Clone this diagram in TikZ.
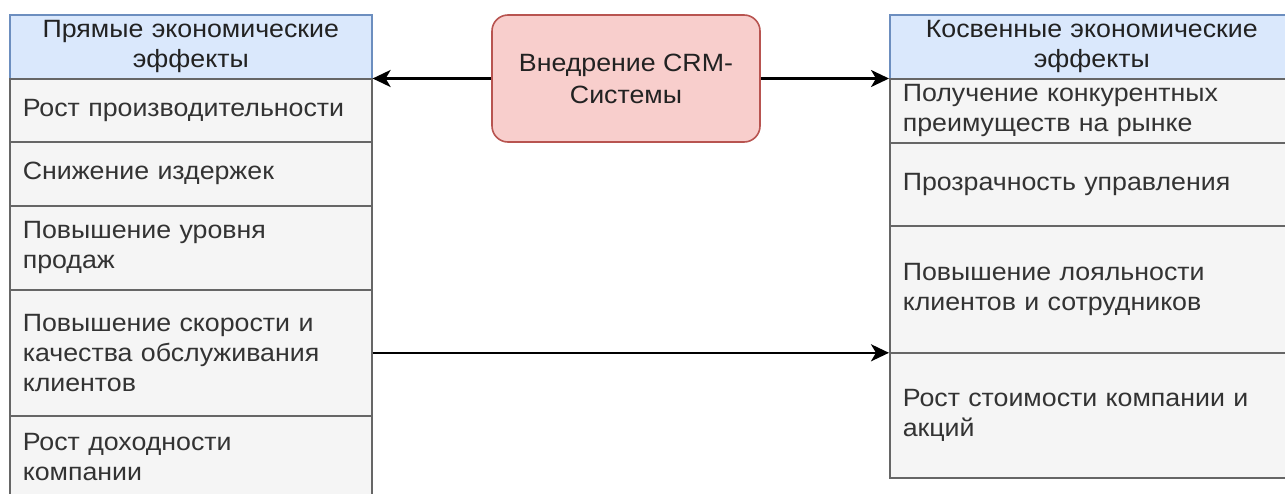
\documentclass[tikz,border=0pt]{standalone}
\usepackage{fontspec}
\setmainfont{Liberation Sans}[FakeStretch=1.07]
\usetikzlibrary{arrows.meta}
\definecolor{hdrfill}{HTML}{DAE8FC}
\definecolor{hdrline}{HTML}{6C8EBF}
\definecolor{cellfill}{HTML}{F5F5F5}
\definecolor{cellline}{HTML}{666666}
\definecolor{celltext}{HTML}{333333}
\definecolor{titletext}{HTML}{222222}
\definecolor{crmfill}{HTML}{F8CECC}
\definecolor{crmline}{HTML}{B85450}
\begin{document}
\begin{tikzpicture}[x=1pt,y=-1pt,
  base/.style={anchor=north west, inner xsep=13pt, inner ysep=0pt,
    font=\fontsize{25}{30}\selectfont, text=celltext, line width=1.6pt},
  header/.style={base, draw=hdrline, fill=hdrfill, align=center, text=titletext},
  cell/.style={base, draw=cellline, fill=cellfill, align=left},
  lcol/.style={text width=336pt},
  rcol/.style={text width=378pt},
  arr/.style={line width=2.6pt, -{Stealth[length=18pt,width=17pt,inset=5pt]}}]
\useasboundingbox (0,0) rectangle (1285,493);

% direct effects (left list)
\node[header, lcol, minimum height=64pt]  (lh) at (9,14)  {Прямые экономические\\эффекты};
\node[cell, lcol, minimum height=63pt]  (l1) at (9,78)  {Рост производительности};
\node[cell, lcol, minimum height=64pt]  (l2) at (9,141) {Снижение издержек};
\node[cell, lcol, minimum height=84pt]  (l3) at (9,205) {Повышение уровня\\продаж};
\node[cell, lcol, minimum height=126pt] (l4) at (9,289) {Повышение скорости и\\качества обслуживания\\клиентов};
\node[cell, lcol, minimum height=83pt]  (l5) at (9,415) {Рост доходности\\компании};

% indirect effects (right list)
\node[header, rcol, minimum height=64pt]  (rh) at (889,14)  {Косвенные экономические\\эффекты};
\node[cell, rcol, minimum height=64pt]  (r1) at (889,78)  {Получение конкурентных\\преимуществ на рынке};
\node[cell, rcol, minimum height=83pt]  (r2) at (889,142) {Прозрачность управления};
\node[cell, rcol, minimum height=127pt] (r3) at (889,225) {Повышение лояльности\\клиентов и сотрудников};
\node[cell, rcol, minimum height=125pt] (r4) at (889,352) {Рост стоимости компании и\\акций};

% central block
\node[draw=crmline, fill=crmfill, line width=1.6pt, rounded corners=16pt,
      minimum width=268pt, minimum height=127pt, align=center,
      font=\fontsize{25}{32}\selectfont, text=titletext] (crm) at (626,78.5)
      {Внедрение CRM-\\Системы};

% connectors
\draw[arr] (crm.west) -- (crm.west -| lh.east);
\draw[arr] (crm.east) -- (crm.east -| rh.west);
\draw[arr] (l4.east) -- (l4.east -| r4.west);
\end{tikzpicture}
\end{document}
